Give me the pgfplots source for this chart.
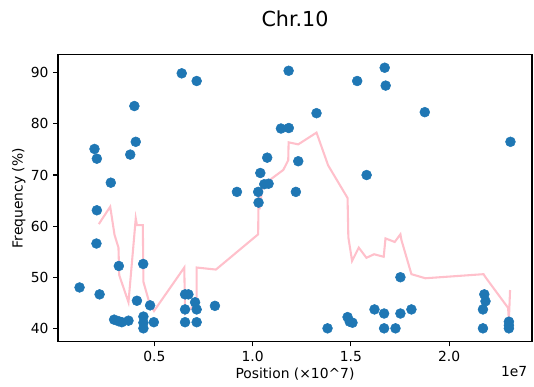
\documentclass[border=0pt]{standalone}
\usepackage{fontspec}
\setmainfont{DejaVu Sans}
\usepackage{pgfplots}
\pgfplotsset{compat=1.18}
\definecolor{tabblue}{HTML}{1F77B4}
\definecolor{mplpink}{HTML}{FFC0CB}
\begin{document}
\begin{tikzpicture}
\begin{axis}[
  at={(0,0)}, anchor=south west,
  scale only axis, width=355.5pt, height=214.9pt,
  xmin=0.0093, xmax=2.4217, ymin=37.43, ymax=93.5,
  xtick={0.5,1.0,1.5,2.0}, xticklabels={0.5,1.0,1.5,2.0},
  ytick={40,50,60,70,80,90},
  tick align=outside, xtick pos=bottom, ytick pos=left,
  major tick length=3.6pt,
  tick style={black, line width=0.83pt},
  axis line style={line width=0.83pt},
  tick label style={font=\fontsize{10.4}{12}\selectfont},
  /pgf/number format/assume math mode=true,
  xlabel={Position (×10\textasciicircum 7)},
  ylabel={Frequency (\%)},
  label style={font=\fontsize{10.4}{12}\selectfont},
  xlabel style={at={(axis description cs:0.5,-0.1308)}, anchor=base},
  ylabel style={at={(axis description cs:-0.0748,0.5)}, anchor=base, rotate=0},
  title={Chr.10},
  title style={font=\fontsize{15.5}{18}\selectfont, at={(axis description cs:0.5,1.0987)}, anchor=base, yshift=-6pt},
  clip=false,
]
\addplot[only marks, color=tabblue, mark=*, mark size=3.7pt, mark options={fill=tabblue, draw=tabblue, line width=0.4pt}] coordinates {
(0.639,89.9) (0.715,88.4) (0.398,83.5) (0.405,76.5) (0.195,75.1) (0.207,73.2)
(0.377,74.0) (0.278,68.5) (0.207,63.1) (0.205,56.6) (0.319,52.2) (0.443,52.6)
(0.119,48.0) (0.221,46.65) (0.411,45.4) (0.478,44.5) (0.295,41.7) (0.317,41.4)
(0.334,41.2) (0.368,41.5) (0.444,42.3) (0.444,41.1) (0.444,40.0) (0.497,41.2)
(0.656,46.65) (0.673,46.65) (0.656,43.7) (0.715,43.7) (0.707,45.1) (0.656,41.2)
(0.715,41.2) (0.808,44.4) (1.183,90.4) (1.325,82.1) (1.144,79.1) (1.184,79.2)
(1.074,73.4) (1.232,72.7) (1.039,70.4) (1.059,68.2) (1.081,68.3) (0.920,66.7)
(1.028,66.7) (1.220,66.7) (1.030,64.6) (1.381,40.0) (1.483,42.2) (1.494,41.3)
(1.508,41.1) (1.532,88.4) (1.672,91.0) (1.677,87.5) (1.876,82.3) (2.312,76.5)
(1.580,70.0) (1.752,50.0) (1.620,43.7) (1.669,42.9) (1.752,42.9) (1.808,43.7)
(1.669,40.0) (1.727,40.0) (2.179,46.65) (2.185,45.3) (2.172,43.7) (2.172,40.0)
(2.304,41.3) (2.304,40.6) (2.304,40.0)
};
\addplot[mplpink, line width=1.56pt, no marks] coordinates {
(0.217,60.4) (0.275,63.8) (0.297,58.3) (0.317,55.8) (0.321,50.4) (0.368,45.1)
(0.405,61.5) (0.411,60.2) (0.441,60.2) (0.444,49.1) (0.475,44.9) (0.498,43.4)
(0.652,51.9) (0.656,42.9) (0.715,44.9) (0.715,51.9) (0.813,51.5) (1.028,58.4)
(1.030,66.2) (1.035,63.3) (1.051,68.0) (1.156,71.0) (1.181,72.9) (1.183,76.4)
(1.232,76.0) (1.325,78.3) (1.384,71.9) (1.483,65.5) (1.487,57.8) (1.506,53.2)
(1.540,55.8) (1.579,53.8) (1.618,54.5) (1.667,54.0) (1.676,57.6) (1.723,56.9)
(1.752,58.4) (1.757,57.3) (1.808,50.6) (1.879,49.8) (2.175,50.6) (2.185,50.0)
(2.300,44.0) (2.304,41.5) (2.310,47.5)
};
\node[anchor=base east, font=\fontsize{10.4}{12}\selectfont] at (axis description cs:1,-0.1238) {1e7};
\end{axis}
\pgfresetboundingbox
\path (-43.5pt,-34.1pt) rectangle (357pt,256.1pt);
\end{tikzpicture}
\end{document}
